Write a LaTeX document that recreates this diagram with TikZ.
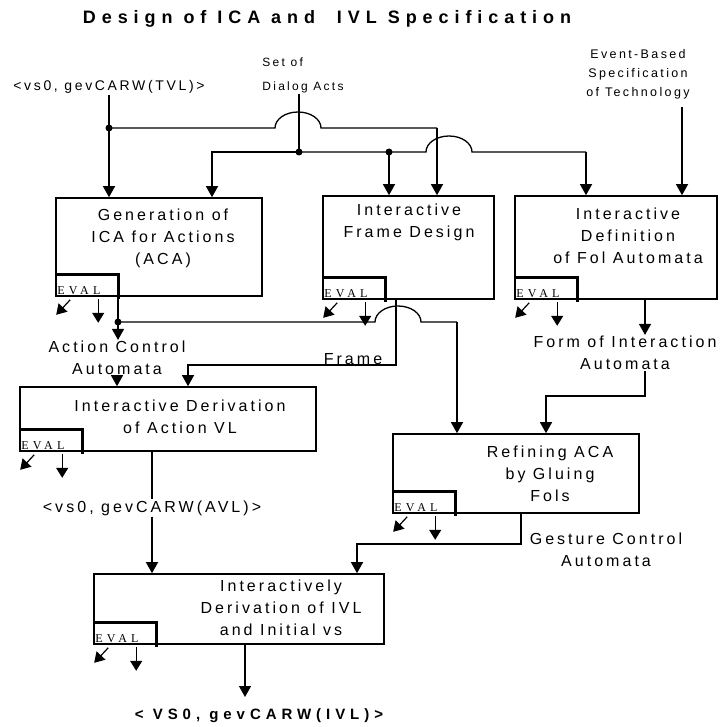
\documentclass[tikz,border=0pt]{standalone}
\usepackage{fontspec}
\setmainfont{Liberation Sans}
\newfontfamily\lblfont[LetterSpace=19]{Liberation Sans}
\newfontfamily\titlefont[LetterSpace=33]{Liberation Sans}
\newfontfamily\evalfont[LetterSpace=35]{Liberation Serif}
\usetikzlibrary{arrows.meta,positioning,calc}
\tikzset{
  blk/.style={draw=black, line width=1.6pt, inner sep=0pt},
  txt/.style={align=center, inner sep=1pt, font=\lblfont\fontsize{16}{22}\selectfont},
  smalltxt/.style={align=center, inner sep=1pt, font=\lblfont\fontsize{12.5}{19}\selectfont},
  evaltxt/.style={inner sep=0pt, font=\evalfont\fontsize{12}{12}\selectfont},
  line/.style={line width=1.3pt},
  arrow/.style={-{Triangle[length=11pt,width=12pt]}, line width=1.3pt},
  evalarrow/.style={-{Triangle[length=10pt,width=12pt]}, line width=1.2pt},
  bracket/.style={line width=3pt},
  dot/.style={circle, fill=black, minimum size=7pt, inner sep=0pt}
}
% EVAL corner of a block
\newcommand{\evalpart}[1]{%
  \draw[bracket] ($(#1.south west)+(1,-22)$) -| ($(#1.south west)+(63,2)$);
  \node[evaltxt, anchor=base west] (#1-eval) at ($(#1.south west)+(2,-2)$) {EVAL};
  \coordinate (#1-ea) at ($(#1.south west)+(15,3)$);
  \coordinate (#1-eb) at ($(#1.south west)+(1,18)$);
  \coordinate (#1-ec) at ($(#1.south west)+(43,2)$);
  \coordinate (#1-ed) at ($(#1.south west)+(43,26)$);
  \draw[evalarrow] (#1-ea) -- (#1-eb);
  \draw[evalarrow] (#1-ec) -- (#1-ed);
}
\begin{document}
\begin{tikzpicture}[x=1pt, y=-1pt]
\useasboundingbox (0,0) rectangle (722,727);

\node[font=\titlefont\bfseries\fontsize{18}{18}\selectfont] (title) at (327,19) {Design of ICA and\ \ IVL Specification};

% inputs
\node[txt, font=\lblfont\fontsize{14}{14}\selectfont] (tvl) at (109,87) {<vs0, gevCARW(TVL)>};
\node[smalltxt, align=left, font=\lblfont\fontsize{12}{24}\selectfont] (acts) at (303,75) {Set of\\Dialog Acts};
\node[smalltxt] (event) at (638,74) {Event-Based\\Specification\\of Technology};

% blocks
\node[blk, minimum width=206pt, minimum height=98pt] (gen) at (159,247) {};
\node[txt] (genT) at (163,238) {Generation of\\ICA for Actions\\(ACA)};
\node[blk, minimum width=171pt, minimum height=103pt] (frame) at (408.5,247.5) {};
\node[txt] (frameT) at (409,222.5) {Interactive\\Frame Design};
\node[blk, minimum width=202pt, minimum height=103pt] (fol) at (616,247.5) {};
\node[txt] (folT) at (628,236) {Interactive\\Definition\\of Fol Automata};
\node[blk, minimum width=296pt, minimum height=64pt] (derive) at (168,419) {};
\node[txt] (deriveT) at (180,416.5) {Interactive Derivation\\of Action VL};
\node[blk, minimum width=246pt, minimum height=79pt] (refine) at (516,473.5) {};
\node[txt] (refineT) at (550,474) {Refining ACA\\by Gluing\\Fols};
\node[blk, minimum width=290pt, minimum height=70pt] (ivl) at (239,609) {};
\node[txt] (ivlT) at (281,608) {Interactively\\Derivation of IVL\\and Initial vs};

\evalpart{gen}
\evalpart{frame}
\evalpart{fol}
\evalpart{derive}
\evalpart{refine}
\evalpart{ivl}

% results
\node[txt] (aca) at (117,358) {Action Control\\Automata};
\node[txt] (frameL) at (353,359) {Frame};
\node[txt] (fia) at (625,353) {Form of Interaction\\Automata};
\node[txt] (avl) at (152,508) {<vs0, gevCARW(AVL)>};
\node[txt] (gca) at (606,550) {Gesture Control\\Automata};
\node[txt, font=\titlefont\bfseries\fontsize{15}{15}\selectfont] (out) at (259,716) {< VS0, gevCARW(IVL)>};

% junctions and corners
\coordinate (tvlj) at (109,128);
\coordinate (tvlk) at (437,128);
\coordinate (actsj) at (299,152);
\coordinate (actsl) at (212,152);
\coordinate (actsr) at (586,152);
\coordinate (framej) at (389,152);
\coordinate (eventk) at (682,107);
\coordinate (acaj) at (118,322);
\coordinate (acak) at (457,322);
\coordinate (framek) at (396,365);
\coordinate (framel) at (188,365);
\coordinate (fiak) at (645,396);
\coordinate (fial) at (546,396);
\coordinate (gcak) at (521,544);
\coordinate (gcal) at (357,544);
\coordinate (ivlo) at (245,697);

% top wiring
\draw[arrow] (tvl) -- (tvl |- gen.north);
\node[dot] (tvldot) at (tvlj) {};
\draw[line] (tvlj) -- ($(tvlj -| actsj)+(-24,0)$) arc[start angle=180, end angle=0, x radius=23pt, y radius=16pt] -- (tvlk);
\draw[arrow] (tvlk) -- (tvlk |- frame.north);
\draw[line] (acts.south -| actsj) -- (actsj);
\node[dot] (actsdot) at (actsj) {};
\draw[arrow] (actsj) -- (actsl) -- (actsl |- gen.north);
\draw[line] (actsj) -- ($(actsj -| tvlk)+(-11,0)$) arc[start angle=180, end angle=0, x radius=23pt, y radius=16pt] -- (actsr);
\draw[arrow] (actsr) -- (actsr |- fol.north);
\node[dot] (framedot) at (framej) {};
\draw[arrow] (framej) -- (framej |- frame.north);
\draw[arrow] (eventk) -- (eventk |- fol.north);

% middle wiring
\draw[line] (gen.south -| acaj) -- (acaj);
\node[dot] (acadot) at (acaj) {};
\draw[arrow] (acaj) -- (aca.north -| acaj);
\draw[arrow] (aca) -- (aca |- derive.north);
\draw[line] (acaj) -- ($(acaj -| framek)+(-21,0)$) arc[start angle=180, end angle=0, x radius=23pt, y radius=16pt] -- (acak);
\draw[arrow] (acak) -- (acak |- refine.north);
\draw[arrow] (frame.south -| framek) -- (framek) -- (framel) -- (framel |- derive.north);
\draw[arrow] (fol.south -| fiak) -- (fia.north -| fiak);
\draw[arrow] (fia.south -| fiak) -- (fiak) -- (fial) -- (fial |- refine.north);

% bottom wiring
\draw[line] (avl |- derive.south) -- (avl.north);
\draw[arrow] (avl) -- (avl |- ivl.north);
\draw[arrow] (refine.south -| gcak) -- (gcak) -- (gcal) -- (gcal |- ivl.north);
\draw[arrow] (ivl.south -| ivlo) -- (ivlo);
\end{tikzpicture}
\end{document}
